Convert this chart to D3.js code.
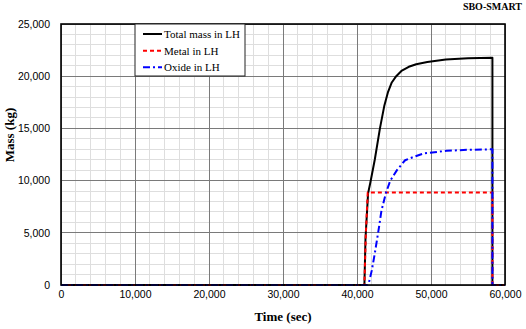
<!DOCTYPE html>
<html><head><meta charset="utf-8">
<script src="https://cdn.jsdelivr.net/npm/d3@7"></script>
<style>
html,body{margin:0;padding:0;background:#fff;}
svg{display:block;}
</style></head>
<body>
<svg id="chart" width="526" height="329"></svg>
<script>
// ---- data ----
const totalTime = [0, 41000, 41150, 41500, 41800, 42400, 43100, 43700, 44200, 44700, 45300, 46000, 47000, 48000, 49500, 52000, 55000, 58300, 58300, 60000];
const totalMass = [0, 0, 4500, 8800, 9800, 12000, 15000, 17200, 18500, 19400, 20000, 20500, 20900, 21150, 21350, 21600, 21720, 21770, 0, 0];

const metalTime = [0, 41000, 41200, 41450, 58300, 58300, 60000];
const metalMass = [0, 0, 5000, 8850, 8850, 0, 0];

const oxideTime = [0, 41400, 41600, 42000, 42400, 42900, 43300, 43900, 44500, 45400, 46500, 47200, 49000, 52100, 55000, 58300, 58300, 60000];
const oxideMass = [0, 0, 200, 1400, 3000, 5200, 7100, 8800, 10000, 11000, 11950, 12150, 12600, 12850, 12950, 13000, 0, 0];

const seriesNames = ["Total mass in LH", "Metal in LH", "Oxide in LH"];
const xTicks = [0, 10000, 20000, 30000, 40000, 50000, 60000];
const yTicks = [0, 5000, 10000, 15000, 20000, 25000];
const xTitle = "Time (sec)";
const yTitle = "Mass (kg)";
const cornerLabel = "SBO-SMART";

// ---- layout ----
const L = 61, R = 505, T = 24, B = 285;
const svg = d3.select("#chart");
const x = d3.scaleLinear().domain([0, 60000]).range([L, R]);
const y = d3.scaleLinear().domain([0, 25000]).range([B, T]);

const styles = [
  {color: "#000000", width: 2, dash: null},
  {color: "#ff0000", width: 2, dash: "4,3"},
  {color: "#0000ff", width: 2, dash: "7,3,2,3"}
];

// minor grid
const g = svg.append("g");
g.selectAll(".mx").data(d3.range(0, 60001, 2000)).join("line")
  .attr("x1", d => x(d)).attr("x2", d => x(d)).attr("y1", T).attr("y2", B)
  .attr("stroke", "#dedede").attr("stroke-width", 1).attr("shape-rendering", "crispEdges");
g.selectAll(".my").data(d3.range(0, 25001, 1000)).join("line")
  .attr("y1", d => y(d)).attr("y2", d => y(d)).attr("x1", L).attr("x2", R)
  .attr("stroke", "#dedede").attr("stroke-width", 1).attr("shape-rendering", "crispEdges");
// major grid
g.append("g").selectAll("line").data(xTicks).join("line")
  .attr("x1", d => x(d)).attr("x2", d => x(d)).attr("y1", T).attr("y2", B)
  .attr("stroke", "#7a7a7a").attr("stroke-width", 1).attr("shape-rendering", "crispEdges");
g.append("g").selectAll("line").data(yTicks).join("line")
  .attr("y1", d => y(d)).attr("y2", d => y(d)).attr("x1", L).attr("x2", R)
  .attr("stroke", "#7a7a7a").attr("stroke-width", 1).attr("shape-rendering", "crispEdges");

// axes (labels only)
const fmt = d3.format(",");
const xAxis = svg.append("g").attr("transform", `translate(0,${B})`)
  .call(d3.axisBottom(x).tickValues(xTicks).tickFormat(fmt).tickSize(0).tickPadding(6));
xAxis.select(".domain").remove();
xAxis.selectAll("text").attr("font-family", "Arial, 'Liberation Sans', sans-serif").attr("font-size", 10.5).attr("fill", "#000");

const yAxis = svg.append("g").attr("transform", `translate(${L},0)`)
  .call(d3.axisLeft(y).tickValues(yTicks).tickFormat(fmt).tickSize(0).tickPadding(11));
yAxis.select(".domain").remove();
yAxis.selectAll("text").attr("font-family", "Arial, 'Liberation Sans', sans-serif").attr("font-size", 10.5).attr("fill", "#000");

// lines
const line = d3.line().x(d => x(d[0])).y(d => y(d[1]));
const series = [
  d3.zip(totalTime, totalMass),
  d3.zip(metalTime, metalMass),
  d3.zip(oxideTime, oxideMass)
];
series.forEach((s, i) => {
  svg.append("path").datum(s).attr("d", line)
    .attr("fill", "none").attr("stroke", styles[i].color).attr("stroke-width", styles[i].width)
    .attr("stroke-dasharray", styles[i].dash).attr("stroke-linejoin", "round");
});

// border
svg.append("rect").attr("x", L).attr("y", T).attr("width", R - L).attr("height", B - T)
  .attr("fill", "none").attr("stroke", "#000").attr("stroke-width", 1.6);

// legend
const lg = svg.append("g");
lg.append("rect").attr("x", 135).attr("y", T).attr("width", 110).attr("height", 52)
  .attr("fill", "#fff").attr("stroke", "#222").attr("stroke-width", 1);
const rowY = [34, 50.7, 67.3];
seriesNames.forEach((n, i) => {
  lg.append("line").attr("x1", 143).attr("x2", 162).attr("y1", rowY[i]).attr("y2", rowY[i])
    .attr("stroke", styles[i].color).attr("stroke-width", 2).attr("stroke-dasharray", styles[i].dash);
  lg.append("text").attr("x", 164).attr("y", rowY[i]).attr("dy", "0.35em")
    .attr("font-family", "'Times New Roman', 'Liberation Serif', serif").attr("font-size", 11)
    .text(n);
});

// titles
svg.append("text").attr("x", 283).attr("y", 321).attr("text-anchor", "middle")
  .attr("font-family", "'Times New Roman', 'Liberation Serif', serif").attr("font-weight", "bold").attr("font-size", 13)
  .text(xTitle);
svg.append("text").attr("transform", "translate(14,135) rotate(-90)").attr("text-anchor", "middle")
  .attr("font-family", "'Times New Roman', 'Liberation Serif', serif").attr("font-weight", "bold").attr("font-size", 13)
  .text(yTitle);
svg.append("text").attr("x", 522).attr("y", 10).attr("text-anchor", "end")
  .attr("font-family", "'Times New Roman', 'Liberation Serif', serif").attr("font-weight", "bold").attr("font-size", 10)
  .text(cornerLabel);
</script>
</body></html>
